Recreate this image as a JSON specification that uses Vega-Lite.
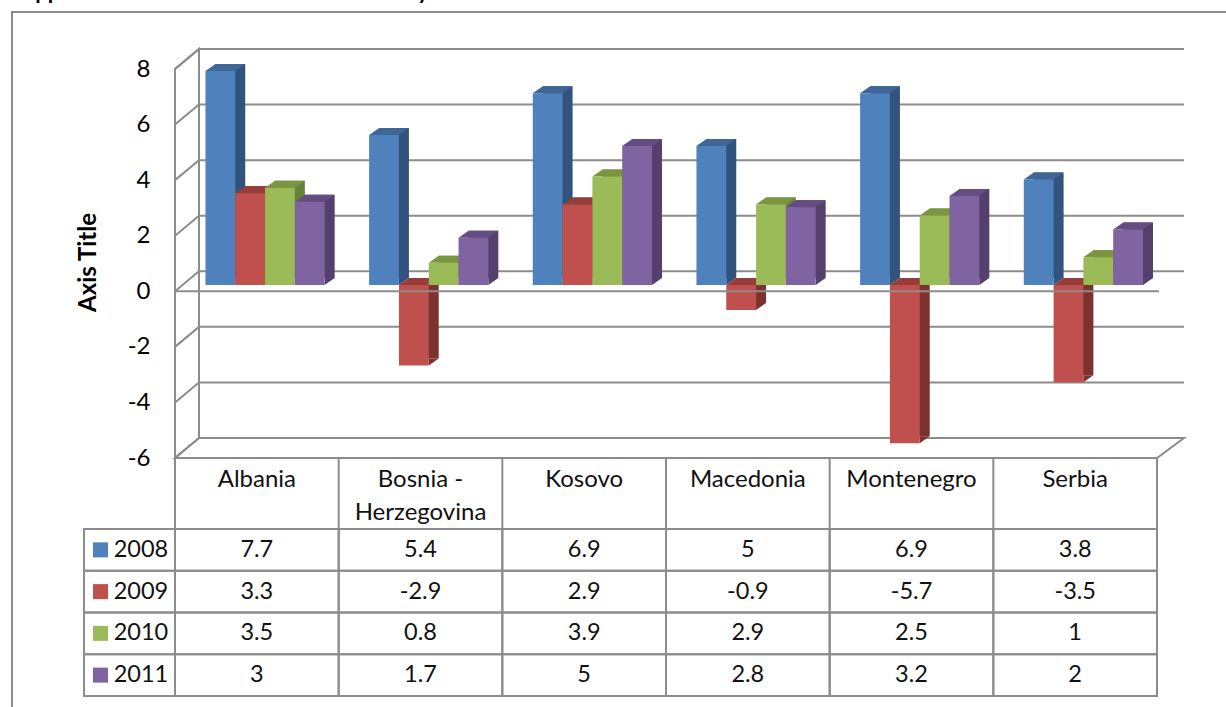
{
"$schema":"https://vega.github.io/schema/vega-lite/v6.json",
"width":1226,"height":707,"padding":0,"autosize":{"type":"none"},"background":"white",
"title":{"text":"Appendix 1: GDP Growth in Each Country","anchor":"start","frame":"group","orient":"top","offset":0,"dx":20,"dy":21,"baseline":"alphabetic","font":"Lato","fontSize":22,"fontWeight":"bold","color":"#000000"},
"config":{"view":{"stroke":null},"font":"Lato"},
"datasets":{
"growth":[
{"country":"Albania","year":"2008","value":7.7},{"country":"Albania","year":"2009","value":3.3},{"country":"Albania","year":"2010","value":3.5},{"country":"Albania","year":"2011","value":3},
{"country":"Bosnia - Herzegovina","year":"2008","value":5.4},{"country":"Bosnia - Herzegovina","year":"2009","value":-2.9},{"country":"Bosnia - Herzegovina","year":"2010","value":0.8},{"country":"Bosnia - Herzegovina","year":"2011","value":1.7},
{"country":"Kosovo","year":"2008","value":6.9},{"country":"Kosovo","year":"2009","value":2.9},{"country":"Kosovo","year":"2010","value":3.9},{"country":"Kosovo","year":"2011","value":5},
{"country":"Macedonia","year":"2008","value":5},{"country":"Macedonia","year":"2009","value":-0.9},{"country":"Macedonia","year":"2010","value":2.9},{"country":"Macedonia","year":"2011","value":2.8},
{"country":"Montenegro","year":"2008","value":6.9},{"country":"Montenegro","year":"2009","value":-5.7},{"country":"Montenegro","year":"2010","value":2.5},{"country":"Montenegro","year":"2011","value":3.2},
{"country":"Serbia","year":"2008","value":3.8},{"country":"Serbia","year":"2009","value":-3.5},{"country":"Serbia","year":"2010","value":1},{"country":"Serbia","year":"2011","value":2}],
"gridlines":[{"v":8},{"v":6},{"v":4},{"v":2},{"v":0},{"v":-2},{"v":-4},{"v":-6}],
"countries":[{"country":"Albania"},{"country":"Bosnia - Herzegovina"},{"country":"Kosovo"},{"country":"Macedonia"},{"country":"Montenegro"},{"country":"Serbia"}],
"years":[{"year":"2008"},{"year":"2009"},{"year":"2010"},{"year":"2011"}]
},
"layer":[
{
"resolve":{"scale":{"color":"independent","xOffset":"independent"}},
"layer":[
{"data":{"name":"gridlines"},
 "mark":{"type":"point","shape":"M0 0L24 -20H1009","size":4,"filled":false,"stroke":"#8c8c8c","strokeWidth":2,"opacity":1},
 "encoding":{
  "x":{"datum":"Albania","bandPosition":0,"type":"nominal","scale":{"type":"band","domain":["Albania","Bosnia - Herzegovina","Kosovo","Macedonia","Montenegro","Serbia"],"range":[175,1157],"paddingInner":0,"paddingOuter":0},
   "axis":{"orient":"bottom","offset":-249,"title":null,"domain":false,"ticks":false,"labelAngle":0,"labelPadding":9,"labelFont":"Lato","labelFontSize":24,"labelColor":"#111111","labelLineHeight":33,"labelBound":false,"labelOverlap":false,"labelLimit":300,"labelExpr":"datum.label == 'Bosnia - Herzegovina' ? ['Bosnia -','Herzegovina'] : datum.label"}},
  "y":{"field":"v","type":"quantitative","scale":{"domain":[-6,8],"range":[458,69],"nice":false,"zero":false},
   "axis":{"orient":"left","offset":-175,"title":"Axis Title","titleFont":"Lato","titleFontSize":24,"titleFontWeight":"bold","titleColor":"#000000","titleAngle":-90,"titleX":-75,"titleY":262,"grid":false,"domain":false,"ticks":false,"values":[8,6,4,2,0,-2,-4,-6],"labelPadding":25,"labelFont":"Lato","labelFontSize":24,"labelColor":"#000000","labelExpr":"'' + datum.value"}}
 }},
{"data":{"name":"gridlines"},"transform":[{"filter":"datum.v == -6"}],
 "mark":{"type":"point","shape":"M0 0L24 -20H1009L982 0ZM0 0V-389L24 -409V-20M982 0V71","size":4,"filled":false,"stroke":"#8c8c8c","strokeWidth":2,"opacity":1},
 "encoding":{"x":{"datum":"Albania","bandPosition":0,"type":"nominal"},"y":{"field":"v","type":"quantitative"}}},
{"data":{"name":"countries"},
 "mark":{"type":"point","shape":"M0 0V71","size":4,"filled":false,"stroke":"#8c8c8c","strokeWidth":2,"opacity":1},
 "encoding":{"x":{"field":"country","type":"nominal","bandPosition":0},"y":{"datum":-6,"type":"quantitative"}}},
{"data":{"name":"growth"},
 "mark":{"type":"bar","yOffset":-13.3,"y2Offset":-13.3},
 "encoding":{"x":{"field":"country","type":"nominal"},
  "xOffset":{"field":"year","type":"nominal","scale":{"type":"band","domain":["2008","2009","2010","2011"],"range":[10,173.67],"paddingInner":0,"paddingOuter":0.746,"align":0.685}},
  "y":{"field":"value","type":"quantitative"},
  "color":{"field":"year","type":"nominal","legend":null,"scale":{"domain":["2008","2009","2010","2011"],"range":["#31537c","#7e3230","#67803a","#543f6d"]}}}},
{"data":{"name":"growth"},"transform":[{"filter":"datum.value >= 0"}],
 "mark":{"type":"point","shape":"M14.9 0L24.9 -7L14.9 -7Z","size":4,"filled":true,"opacity":1,"strokeWidth":0,"yOffset":-6.3},
 "encoding":{"x":{"field":"country","type":"nominal"},"xOffset":{"field":"year","type":"nominal","scale":{"type":"band","domain":["2008","2009","2010","2011"],"range":[0,163.67],"paddingInner":0,"paddingOuter":0.746,"align":0.685}},"y":{"datum":0,"type":"quantitative"},
  "color":{"field":"year","type":"nominal","legend":null,"scale":{"domain":["2008","2009","2010","2011"],"range":["#31537c","#7e3230","#67803a","#543f6d"]}}}},
{"data":{"name":"growth"},"transform":[{"filter":"datum.value < 0"}],
 "mark":{"type":"point","shape":"M14.9 0L24.9 -7L14.9 -7Z","size":4,"filled":true,"opacity":1,"strokeWidth":0,"yOffset":-6.3},
 "encoding":{"x":{"field":"country","type":"nominal"},"xOffset":{"field":"year","type":"nominal","scale":{"type":"band","domain":["2008","2009","2010","2011"],"range":[0,163.67],"paddingInner":0,"paddingOuter":0.746,"align":0.685}},"y":{"field":"value","type":"quantitative"},
  "color":{"field":"year","type":"nominal","legend":null,"scale":{"domain":["2008","2009","2010","2011"],"range":["#31537c","#7e3230","#67803a","#543f6d"]}}}},
{"data":{"name":"growth"},"transform":[{"filter":"datum.value >= 0"}],
 "mark":{"type":"point","shape":"M-14.9 0H14.9L24.9 -7H-4.9Z","size":4,"filled":true,"opacity":1,"strokeWidth":0,"yOffset":-6.3},
 "encoding":{"x":{"field":"country","type":"nominal"},"xOffset":{"field":"year","type":"nominal","scale":{"type":"band","domain":["2008","2009","2010","2011"],"range":[0,163.67],"paddingInner":0,"paddingOuter":0.746,"align":0.685}},"y":{"field":"value","type":"quantitative"},
  "color":{"field":"year","type":"nominal","legend":null,"scale":{"domain":["2008","2009","2010","2011"],"range":["#3f6796","#963c3a","#7a9440","#654c83"]}}}},
{"data":{"name":"growth"},"transform":[{"filter":"datum.value < 0"}],
 "mark":{"type":"point","shape":"M-14.9 0H14.9L24.9 -7H-4.9Z","size":4,"filled":true,"opacity":1,"strokeWidth":0,"yOffset":-6.3},
 "encoding":{"x":{"field":"country","type":"nominal"},"xOffset":{"field":"year","type":"nominal","scale":{"type":"band","domain":["2008","2009","2010","2011"],"range":[0,163.67],"paddingInner":0,"paddingOuter":0.746,"align":0.685}},"y":{"datum":0,"type":"quantitative"},
  "color":{"field":"year","type":"nominal","legend":null,"scale":{"domain":["2008","2009","2010","2011"],"range":["#3f6796","#963c3a","#7a9440","#654c83"]}}}},
{"data":{"name":"growth"},
 "mark":{"type":"bar","yOffset":-6.3,"y2Offset":-6.3},
 "encoding":{"x":{"field":"country","type":"nominal"},"xOffset":{"field":"year","type":"nominal","scale":{"type":"band","domain":["2008","2009","2010","2011"],"range":[0,163.67],"paddingInner":0,"paddingOuter":0.746,"align":0.685}},
  "y":{"field":"value","type":"quantitative"},
  "color":{"field":"year","type":"nominal","legend":null,"scale":{"domain":["2008","2009","2010","2011"],"range":["#4f81bd","#c0504d","#9bbb59","#8064a2"]}}}},
{"data":{"name":"gridlines"},"transform":[{"filter":"datum.v == 0"}],
 "mark":{"type":"point","shape":"M0 0H984","size":4,"filled":false,"stroke":"#8c8c8c","strokeWidth":2,"opacity":1},
 "encoding":{"x":{"datum":"Albania","bandPosition":0,"type":"nominal"},"y":{"field":"v","type":"quantitative"}}},
{"data":{"name":"gridlines"},"transform":[{"filter":"datum.v == 8"}],
 "mark":{"type":"point","shape":"M-163 800V-57H1100","size":4,"filled":false,"stroke":"#8c8c8c","strokeWidth":2,"opacity":1},
 "encoding":{"x":{"datum":"Albania","bandPosition":0,"type":"nominal"},"y":{"field":"v","type":"quantitative"}}}
]},
{
"layer":[
{"data":{"name":"growth"},
 "mark":{"type":"bar","fill":"white","fillOpacity":0,"stroke":"#8c8c8c","strokeWidth":2},
 "encoding":{"x":{"field":"country","type":"nominal"},
  "y":{"field":"year","type":"nominal","axis":null,"scale":{"type":"band","domain":["2008","2009","2010","2011"],"range":[529,696],"paddingInner":0,"paddingOuter":0}}}},
{"data":{"name":"years"},
 "mark":{"type":"point","shape":"M-91 -20.9H0V20.9H-91Z","size":4,"filled":false,"stroke":"#8c8c8c","strokeWidth":2,"opacity":1},
 "encoding":{"x":{"datum":"Albania","bandPosition":0,"type":"nominal"},"y":{"field":"year","type":"nominal"}}},
{"data":{"name":"years"},
 "mark":{"type":"point","shape":"square","size":225,"filled":true,"opacity":1,"strokeWidth":0,"xOffset":-74.5},
 "encoding":{"x":{"datum":"Albania","bandPosition":0,"type":"nominal"},"y":{"field":"year","type":"nominal"},
  "color":{"field":"year","type":"nominal","legend":null,"scale":{"domain":["2008","2009","2010","2011"],"range":["#4f81bd","#c0504d","#9bbb59","#8064a2"]}}}},
{"data":{"name":"years"},
 "mark":{"type":"text","font":"Lato","fontSize":23.5,"color":"#111111","dx":-34,"align":"center","baseline":"middle"},
 "encoding":{"x":{"datum":"Albania","bandPosition":0,"type":"nominal"},"y":{"field":"year","type":"nominal"},"text":{"field":"year","type":"nominal"}}},
{"data":{"name":"growth"},
 "mark":{"type":"text","font":"Lato","fontSize":23.5,"color":"#111111","align":"center","baseline":"middle"},
 "encoding":{"x":{"field":"country","type":"nominal"},"y":{"field":"year","type":"nominal"},"text":{"field":"value","type":"nominal"}}}
]}
],
"resolve":{"scale":{"y":"independent","color":"independent"}}
}
